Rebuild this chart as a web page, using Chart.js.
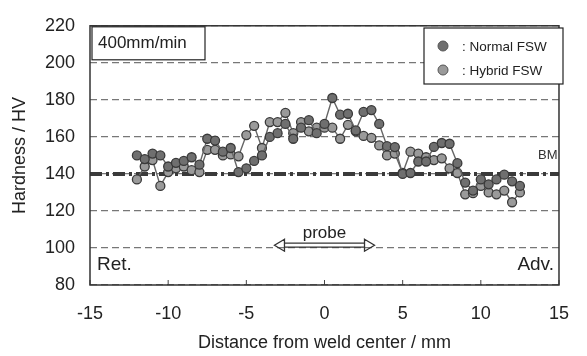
<!DOCTYPE html>
<html>
<head>
<meta charset="utf-8">
<script src="https://cdn.jsdelivr.net/npm/chart.js@4.4.1/dist/chart.umd.min.js"></script>
<style>
  html, body { margin: 0; padding: 0; background: #fff; }
  #wrap { width: 587px; height: 356px; }
</style>
</head>
<body>
<div id="wrap"><canvas id="chart"></canvas></div>
<script>
// distance from weld center (mm)
const distance = [-12, -11.5, -11, -10.5, -10, -9.5, -9, -8.5, -8, -7.5, -7, -6.5, -6, -5.5, -5, -4.5, -4, -3.5, -3, -2.5,
  -2, -1.5, -1, -0.5, 0, 0.5, 1, 1.5, 2, 2.5, 3, 3.5, 4, 4.5, 5, 5.5, 6, 6.5, 7, 7.5,
  8, 8.5, 9, 9.5, 10, 10.5, 11, 11.5, 12, 12.5];

// hardness (HV)
const normalFSW = [150, 148, 151, 150, 144, 146, 147, 149, 145, 159, 158, 152, 154, 141, 143, 147, 150, 160, 162, 167,
  159, 165, 169, 162, 167, 181, 172, 172.5, 163.5, 173.5, 174.5, 167, 155, 154.5, 140, 140.5, 146.7, 146.7, 154.6, 156.7,
  156.3, 145.8, 135.3, 131, 137, 134.4, 137, 139.6, 136, 133.5];
const hybridFSW = [137, 144, 147.5, 133.5, 141, 143, 144, 142, 141, 153, 153, 150, 150.5, 149.5, 161, 166, 154, 168, 168, 173,
  162, 168, 163, 165, 165, 165, 159, 166.5, 163, 160.5, 159.5, 155.4, 150, 151, 140.5, 152, 151, 149, 147.5, 148.4,
  143, 140.5, 129, 129.6, 133.5, 130, 129, 131, 124.7, 130];

const bmLevel = 140;
const xTicks = [-15, -10, -5, 0, 5, 10, 15];
const yTicks = [80, 100, 120, 140, 160, 180, 200, 220];

const FONT = "'Liberation Sans', Arial, sans-serif";

const toPoints = (ys) => distance.map((d, i) => ({ x: d, y: ys[i] }));

// 枠, 凡例, 注記
const decor = {
  id: 'decor',
  afterDraw(chart) {
    const { ctx, chartArea: a, scales: { x, y } } = chart;
    ctx.save();

    // bottom tick marks (inside)
    ctx.strokeStyle = '#444';
    ctx.lineWidth = 1;
    xTicks.forEach(v => {
      const px = x.getPixelForValue(v);
      ctx.beginPath();
      ctx.moveTo(px, a.bottom);
      ctx.lineTo(px, a.bottom - 5);
      ctx.stroke();
    });

    // frame
    ctx.strokeStyle = '#333';
    ctx.lineWidth = 1.5;
    ctx.strokeRect(a.left, a.top, a.right - a.left, a.bottom - a.top);

    // speed box
    ctx.fillStyle = '#fff';
    ctx.fillRect(a.left + 2, a.top + 1, 113, 33);
    ctx.strokeStyle = '#222';
    ctx.lineWidth = 1.2;
    ctx.strokeRect(a.left + 2, a.top + 1, 113, 33);
    ctx.fillStyle = '#222';
    ctx.font = '17px ' + FONT;
    ctx.textBaseline = 'middle';
    ctx.textAlign = 'left';
    ctx.fillText('400mm/min', a.left + 8, a.top + 18);

    // legend
    const lx = 424, ly = 28, lw = 139, lh = 56;
    ctx.fillStyle = '#fff';
    ctx.fillRect(lx, ly, lw, lh);
    ctx.strokeStyle = '#222';
    ctx.strokeRect(lx, ly, lw, lh);
    [['#6f6f6f', ': Normal FSW', 46], ['#9a9a9a', ': Hybrid FSW', 70]].forEach(([c, t, cy]) => {
      ctx.beginPath();
      ctx.arc(443, cy, 5, 0, Math.PI * 2);
      ctx.fillStyle = c;
      ctx.fill();
      ctx.strokeStyle = '#555';
      ctx.lineWidth = 1;
      ctx.stroke();
      ctx.fillStyle = '#222';
      ctx.font = '13.5px ' + FONT;
      ctx.fillText(t, 462, cy + 1);
    });

    // BM label
    ctx.font = '13px ' + FONT;
    ctx.fillStyle = '#333';
    ctx.textAlign = 'left';
    ctx.fillText('BM', 538, y.getPixelForValue(bmLevel) - 18);

    // Ret. / Adv.
    ctx.font = '19px ' + FONT;
    ctx.fillStyle = '#222';
    ctx.fillText('Ret.', a.left + 7, a.bottom - 20);
    ctx.textAlign = 'right';
    ctx.fillText('Adv.', a.right - 5, a.bottom - 20);

    // probe arrow
    const ax1 = x.getPixelForValue(-3.2), ax2 = x.getPixelForValue(3.2);
    const ay = y.getPixelForValue(101.5);
    ctx.textAlign = 'center';
    ctx.font = '17px ' + FONT;
    ctx.fillText('probe', (ax1 + ax2) / 2, ay - 12);
    ctx.strokeStyle = '#333';
    ctx.lineWidth = 1.3;
    ctx.beginPath();
    ctx.moveTo(ax1 + 10, ay - 2); ctx.lineTo(ax2 - 10, ay - 2);
    ctx.moveTo(ax1 + 10, ay + 2); ctx.lineTo(ax2 - 10, ay + 2);
    ctx.moveTo(ax1 + 10, ay - 6); ctx.lineTo(ax1, ay); ctx.lineTo(ax1 + 10, ay + 6); ctx.closePath();
    ctx.moveTo(ax2 - 10, ay - 6); ctx.lineTo(ax2, ay); ctx.lineTo(ax2 - 10, ay + 6); ctx.closePath();
    ctx.stroke();

    ctx.restore();
  }
};

new Chart(document.getElementById('chart'), {
  type: 'line',
  data: {
    datasets: [
      {
        label: 'BM',
        data: [{ x: -15, y: bmLevel }, { x: 15, y: bmLevel }],
        borderColor: '#3a3a3a',
        borderWidth: 4,
        borderDash: [12, 4, 3, 4],
        pointRadius: 0,
        order: 3
      },
      {
        label: 'Hybrid FSW',
        data: toPoints(hybridFSW),
        borderColor: '#666',
        borderWidth: 1.4,
        pointRadius: 4.5,
        pointBackgroundColor: '#9a9a9a',
        pointBorderColor: '#3a3a3a',
        pointBorderWidth: 1.3,
        order: 2
      },
      {
        label: 'Normal FSW',
        data: toPoints(normalFSW),
        borderColor: '#666',
        borderWidth: 1.4,
        pointRadius: 4.5,
        pointBackgroundColor: '#6f6f6f',
        pointBorderColor: '#3a3a3a',
        pointBorderWidth: 1.3,
        order: 1
      }
    ]
  },
  options: {
    responsive: true,
    maintainAspectRatio: false,
    animation: false,
    layout: { padding: { left: 0, right: 16, top: 19, bottom: 0 } },
    plugins: { legend: { display: false }, tooltip: { enabled: false } },
    scales: {
      x: {
        type: 'linear',
        min: -15,
        max: 15,
        afterBuildTicks: s => { s.ticks = xTicks.map(v => ({ value: v })); },
        afterFit: s => { s.height = 71; },
        grid: { display: false, drawTicks: false },
        border: { display: false },
        ticks: { padding: 18, color: '#222', font: { family: FONT, size: 18 } },
        title: {
          display: true,
          text: 'Distance from weld center / mm',
          color: '#222',
          font: { family: FONT, size: 18 },
          padding: { top: 0, bottom: 2 }
        }
      },
      y: {
        min: 80,
        max: 220,
        afterBuildTicks: s => { s.ticks = yTicks.map(v => ({ value: v })); },
        afterFit: s => { s.width = 90; },
        grid: { color: '#777', lineWidth: 1.2, drawTicks: false },
        border: { display: false, dash: [7, 4] },
        ticks: { padding: 15, color: '#222', font: { family: FONT, size: 18 } },
        title: {
          display: true,
          text: 'Hardness / HV',
          color: '#222',
          font: { family: FONT, size: 18 },
          padding: { top: 9, bottom: 0 }
        }
      }
    }
  },
  plugins: [decor]
});
</script>
</body>
</html>
